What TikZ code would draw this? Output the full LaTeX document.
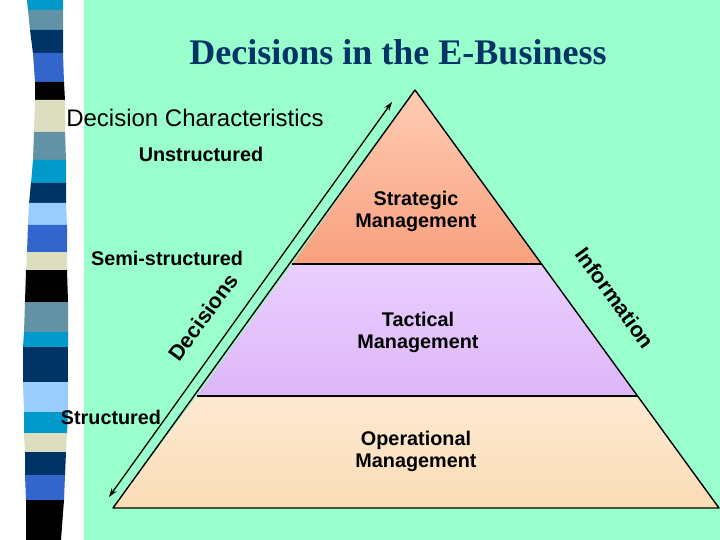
\documentclass[tikz,border=0pt]{standalone}
\usepackage{fontspec}
\setmainfont{Liberation Sans}
\newfontfamily\titlefont{Liberation Serif}
\usetikzlibrary{arrows.meta}
\definecolor{mint}{HTML}{99FFCC}
\definecolor{titlecol}{HTML}{003366}
\definecolor{stcyan}{HTML}{0099CC}
\definecolor{stgray}{HTML}{6192A5}
\definecolor{stnavy}{HTML}{003366}
\definecolor{stblue}{HTML}{3366CC}
\definecolor{stbeige}{HTML}{DDDDC0}
\definecolor{stlight}{HTML}{99CCFF}
\definecolor{stratTop}{HTML}{FFCCB4}
\definecolor{stratBot}{HTML}{F8A07E}
\definecolor{tactTop}{HTML}{EACFFF}
\definecolor{tactBot}{HTML}{DDB6F8}
\definecolor{operTop}{HTML}{FDE9D2}
\definecolor{operBot}{HTML}{FBDDB6}
\tikzset{
  lbl/.style={font=\bfseries\fontsize{19.8}{22}\selectfont, align=center, inner sep=0pt},
  layer/.style={line width=1.4pt, line join=round},
  stripe/.style={draw=none}
}
\newcommand{\stripeband}[7]{%
  \fill[#7] (#3,#1) -- (#4,#1) -- (#6,#2) -- (#5,#2) -- cycle;}
\begin{document}
\begin{tikzpicture}[x=1pt,y=-1pt]
\useasboundingbox (0,0) rectangle (720,540);
\fill[white] (0,0) rectangle (720,540);
\fill[mint] (84,0) rectangle (720,540);
% left stripes: ytop ybot ltop rtop lbot rbot colour
\stripeband{0}{10.5}{27}{63}{28}{63}{stcyan}
\stripeband{10}{30.5}{28}{63}{30}{63}{stgray}
\stripeband{30}{53.5}{30}{63}{33}{63}{stnavy}
\stripeband{53}{82.5}{33}{63}{35}{64}{stblue}
\stripeband{82}{100.5}{35}{64}{35}{65}{black}
\stripeband{100}{132.5}{35}{65}{34}{65}{stbeige}
\stripeband{132}{160.5}{34}{65}{33}{66}{stgray}
\stripeband{160}{183.5}{33}{66}{31}{66}{stcyan}
\stripeband{183}{203.5}{31}{66}{29}{66}{stnavy}
\stripeband{203}{225.5}{29}{66}{28}{67}{stlight}
\stripeband{225}{252.5}{28}{67}{27}{67}{stblue}
\stripeband{252}{270.5}{27}{67}{26}{67}{stbeige}
\stripeband{270}{302.5}{26}{67}{25}{68}{black}
\stripeband{302}{332.5}{25}{68}{24}{68}{stgray}
\stripeband{332}{347.5}{24}{68}{23}{68}{stcyan}
\stripeband{347}{382.5}{23}{68}{23}{68}{stnavy}
\stripeband{382}{412.5}{23}{68}{24}{68}{stlight}
\stripeband{412}{433.5}{24}{68}{24}{67}{stcyan}
\stripeband{433}{452.5}{24}{67}{25}{66}{stbeige}
\stripeband{452}{475.5}{25}{66}{25}{65}{stnavy}
\stripeband{475}{500.5}{25}{65}{26}{64}{stblue}
\stripeband{500}{540}{26}{64}{26}{61}{black}
% pyramid geometry
\coordinate (apex) at (415,90);
\coordinate (bl) at (113,508);
\coordinate (br) at (719,508);
\coordinate (s1l) at (292.2,264);
\coordinate (s1r) at (540.8,264);
\coordinate (s2l) at (196.8,396);
\coordinate (s2r) at (637.1,396);
\shade[top color=stratTop, bottom color=stratBot] (apex) -- (s1r) -- (s1l) -- cycle;
\shade[top color=tactTop, bottom color=tactBot] (s1l) -- (s1r) -- (s2r) -- (s2l) -- cycle;
\shade[top color=operTop, bottom color=operBot] (s2l) -- (s2r) -- (br) -- (bl) -- cycle;
\draw[layer] (apex) -- (br) -- (bl) -- cycle;
\draw[line width=2pt] (s1l) -- (s1r);
\draw[line width=2pt] (s2l) -- (s2r);
% arrow
\coordinate (arrlo) at (109,497);
\coordinate (arrhi) at (392,102);
\draw[line width=1.3pt, {Stealth[length=9pt,width=6pt]}-{Stealth[length=9pt,width=6pt]}] (arrlo) -- (arrhi);
% texts
\node[font=\titlefont\bfseries\fontsize{36}{40}\selectfont, text=titlecol, inner sep=0pt] (title) at (398,52) {Decisions in the E-Business};
\node[font=\fontsize{24}{28}\selectfont, inner sep=0pt] (dc) at (195,118) {Decision Characteristics};
\node[lbl] (unstr) at (201,154) {Unstructured};
\node[lbl] (semi) at (167,258) {Semi-structured};
\node[lbl] (str) at (111,417) {Structured};
\node[lbl] (strat) at (416,211) {Strategic\\Management};
\node[lbl] (tact) at (418,332) {Tactical\\Management};
\node[lbl] (oper) at (416,451) {Operational\\Management};
\node[font=\bfseries\fontsize{21.5}{24}\selectfont, rotate=54, inner sep=0pt] (dec) at (203,317) {Decisions};
\node[font=\bfseries\fontsize{21.5}{24}\selectfont, rotate=-54, inner sep=0pt] (info) at (615,298) {Information};
\end{tikzpicture}
\end{document}
